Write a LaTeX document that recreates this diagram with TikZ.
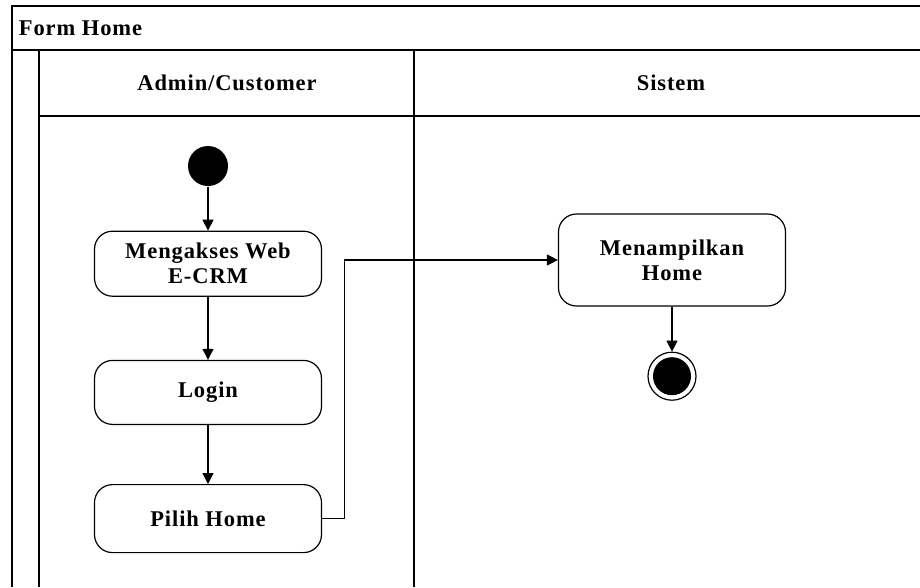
\documentclass[tikz,border=0pt]{standalone}
\usepackage{fontspec}
\setmainfont{Liberation Serif}[LetterSpace=4]
\usetikzlibrary{arrows.meta, positioning, calc, graphs}
\tikzset{
>={Triangle[length=11pt,width=11pt]},
rightup/.style={to path={(\tikztostart.east) -- ++(#1,0) |- (\tikztotarget)}},
lane/.style={line width=1.6pt},
head/.style={%
    font=\bfseries\fontsize{22.5}{25}\selectfont
},
box/.style={%
    rectangle,
    minimum width=227pt,
    rounded corners=18pt,
    draw=black,
    align=center,
    % Font
    font=\bfseries\fontsize{22.5}{25}\selectfont
},
start/.style={%
    circle,inner sep=0pt,minimum size=40pt,fill=black
},
stop/.style={%
    circle,inner sep=0pt,minimum size=48pt,draw=black,
    path picture={\fill (path picture bounding box.center) circle (19pt);}
},
}

\begin{document}
\begin{tikzpicture}[x=1pt,y=-1pt,line width=1.2pt]
	\useasboundingbox (0,0) rectangle (920,587);
	% swimlanes
	\draw[lane] (920,6) -- (12,6) -- (12,587);
	\draw[lane] (12,50) -- (920,50);
	\draw[lane] (39,50) -- (39,587);
	\draw[lane] (414,50) -- (414,587);
	\draw[lane] (39,116) -- (920,116);
	\node[head, anchor=west] (title) at (15,28) {Form Home};
	\node[head] (user) at (227,83) {Admin/Customer};
	\node[head] (sistem) at (671,83) {Sistem};

	\node[start] (start) at (208,166) {};
	\node[box, minimum height=65pt, below=44pt of start] (akses) {Mengakses Web\\E-CRM};
	\node[box, minimum height=64pt, below=63pt of akses] (login) {Login};
	\node[box, minimum height=68pt, below=59pt of login] (pilih) {Pilih Home};
	\node[box, minimum height=92pt] (tampil) at (672,260) {Menampilkan\\Home};
	\node[stop, below=45pt of tampil] (stop) {};

\graph [use existing nodes] {
start -> akses -> login -> pilih;
pilih ->[rightup=22pt] tampil;
tampil -> stop;
};
\end{tikzpicture}
\end{document}
